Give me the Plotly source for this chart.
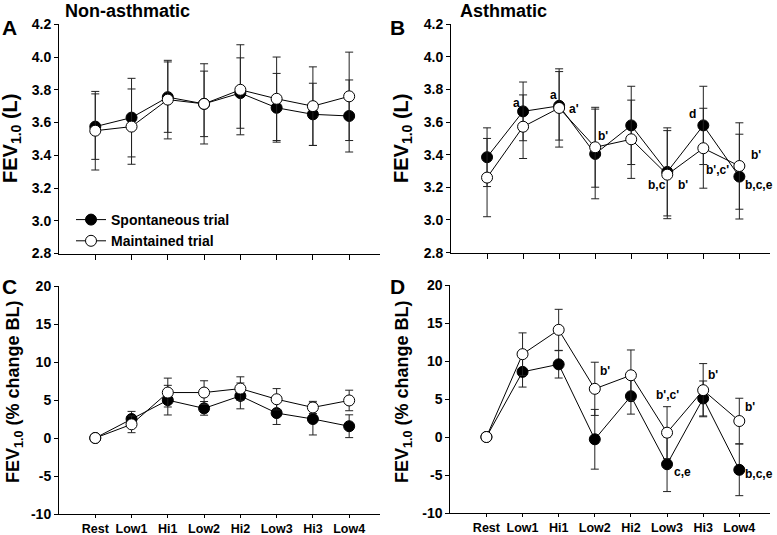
import plotly.graph_objects as go

categories = ["Rest", "Low1", "Hi1", "Low2", "Hi2", "Low3", "Hi3", "Low4"]
x_pos = [1, 2, 3, 4, 5, 6, 7, 8]

# Panel A: Non-asthmatic FEV1.0 (L)
a_spont = [3.575, 3.63, 3.755, 3.714, 3.78, 3.69, 3.65, 3.64]
a_spont_err = [0.20, 0.24, 0.215, 0.20, 0.215, 0.21, 0.19, 0.22]
a_maint = [3.55, 3.575, 3.74, 3.714, 3.80, 3.745, 3.70, 3.76]
a_maint_err = [0.24, 0.23, 0.24, 0.245, 0.275, 0.255, 0.24, 0.27]

# Panel B: Asthmatic FEV1.0 (L)
b_spont = [3.385, 3.666, 3.70, 3.405, 3.58, 3.295, 3.58, 3.266]
b_spont_err = [0.18, 0.18, 0.21, 0.275, 0.24, 0.27, 0.24, 0.26]
b_maint = [3.26, 3.572, 3.687, 3.446, 3.495, 3.278, 3.44, 3.331]
b_maint_err = [0.24, 0.195, 0.24, 0.245, 0.24, 0.27, 0.245, 0.265]

# Panel C: Non-asthmatic FEV1.0 (% change BL)
c_spont = [0, 2.5, 4.98, 3.9, 5.54, 3.28, 2.5, 1.55]
c_spont_err = [0, 1.0, 1.95, 0.9, 1.7, 1.5, 2.1, 1.5]
c_maint = [0, 1.8, 5.98, 5.98, 6.5, 5.1, 4.02, 4.94]
c_maint_err = [0, 1.1, 1.9, 1.55, 1.55, 1.4, 0.8, 1.35]

# Panel D: Asthmatic FEV1.0 (% change BL)
d_spont = [0, 8.57, 9.56, -0.3, 5.37, -3.58, 5.07, -4.32]
d_spont_err = [0, 2.0, 1.8, 3.93, 2.36, 3.6, 2.3, 3.4]
d_maint = [0, 10.9, 14.1, 6.34, 8.12, 0.57, 6.16, 2.1]
d_maint_err = [0, 2.8, 2.7, 3.5, 3.33, 3.42, 3.5, 3.0]

# y tick labels
ytick_l = [2.8, 3.0, 3.2, 3.4, 3.6, 3.8, 4.0, 4.2]
ytick_l_text = ["2.8", "3.0", "3.2", "3.4", "3.6", "3.8", "4.0", "4.2"]
ytick_pct = [-10, -5, 0, 5, 10, 15, 20]
ytick_pct_text = ["-10", "-5", "0", "5", "10", "15", "20"]

# Significance labels (text, x position, y value)
b_labels = [("a", 1.81, 3.72), ("a", 2.84, 3.765), ("a'", 3.41, 3.683),
            ("b'", 4.22, 3.512), ("b,c", 5.72, 3.216), ("b'", 6.43, 3.216),
            ("d", 6.71, 3.652), ("b',c'", 7.40, 3.307), ("b'", 8.46, 3.40),
            ("b,c,e", 8.55, 3.216)]
d_labels = [("b'", 4.27, 8.65), ("b',c'", 6.02, 5.5), ("c,e", 6.43, -4.67),
            ("b'", 7.26, 8.12), ("b'", 8.30, 3.98), ("b,c,e", 8.55, -4.89)]

FONT = "Liberation Sans, Arial, sans-serif"
W, H = 777, 535

fig = go.Figure()


def px_x(p):
    return p / W


def px_y(p):
    return 1 - p / H


panels = {
    "A": dict(xd=[59, 380], yd=[24.3, 253.5], ax="", sp=a_spont, spe=a_spont_err, mt=a_maint, mte=a_maint_err),
    "B": dict(xd=[451, 770], yd=[24.3, 252.6], ax="2", sp=b_spont, spe=b_spont_err, mt=b_maint, mte=b_maint_err),
    "C": dict(xd=[59, 380], yd=[286, 514], ax="3", sp=c_spont, spe=c_spont_err, mt=c_maint, mte=c_maint_err),
    "D": dict(xd=[450.3, 770], yd=[285, 513], ax="4", sp=d_spont, spe=d_spont_err, mt=d_maint, mte=d_maint_err),
}

for key, p in panels.items():
    xa = "x" + p["ax"]
    ya = "y" + p["ax"]
    show = key == "A"
    fig.add_trace(go.Scatter(
        x=x_pos, y=p["sp"], xaxis=xa, yaxis=ya, mode="lines+markers",
        name="Spontaneous trial", showlegend=show, legendrank=1,
        line=dict(color="black", width=1),
        marker=dict(symbol="circle", size=11, color="black", line=dict(color="black", width=1)),
        error_y=dict(type="data", array=p["spe"], visible=True, color="#222", thickness=1, width=4),
        cliponaxis=False,
    ))
    fig.add_trace(go.Scatter(
        x=x_pos, y=p["mt"], xaxis=xa, yaxis=ya, mode="lines+markers",
        name="Maintained trial", showlegend=show, legendrank=2,
        line=dict(color="black", width=1),
        marker=dict(symbol="circle", size=11, color="white", line=dict(color="black", width=1)),
        error_y=dict(type="data", array=p["mte"], visible=True, color="#222", thickness=1, width=4),
        cliponaxis=False,
    ))

    xkey = "xaxis" + p["ax"]
    ykey = "yaxis" + p["ax"]
    bottom = key in ("C", "D")
    xdict = dict(
        domain=[px_x(p["xd"][0]), px_x(p["xd"][1])], anchor=ya, automargin=False,
        range=[0, 8.85], tickmode="array", tickvals=x_pos,
        showticklabels=bottom, ticks="outside", ticklen=3 if bottom else 5, tickcolor="black",
        showline=True, linecolor="black", linewidth=1, showgrid=False, zeroline=False,
        tickfont=dict(family=FONT, size=12.5, color="black", weight="bold"),
    )
    if bottom:
        xdict["ticktext"] = categories
    fig.layout[xkey] = xdict
    if key in ("A", "B"):
        yr, tv, tt = [2.8, 4.2], ytick_l, ytick_l_text
    else:
        yr, tv, tt = [-10, 20], ytick_pct, ytick_pct_text
    fig.layout[ykey] = dict(
        domain=[px_y(p["yd"][1]), px_y(p["yd"][0])], anchor=xa, automargin=False,
        range=yr, tickmode="array", tickvals=tv, ticktext=tt,
        ticks="outside", ticklen=4, tickcolor="black",
        showline=True, linecolor="black", linewidth=1, showgrid=False, zeroline=False,
        tickfont=dict(family=FONT, size=14, color="black", weight="bold"),
    )

annotations = []
# panel titles
annotations.append(dict(text="<b>Non-asthmatic</b>", x=px_x(63), y=px_y(11), xref="paper", yref="paper",
                        xanchor="left", yanchor="middle", showarrow=False,
                        font=dict(family=FONT, size=18, color="black")))
annotations.append(dict(text="<b>Asthmatic</b>", x=px_x(458), y=px_y(11), xref="paper", yref="paper",
                        xanchor="left", yanchor="middle", showarrow=False,
                        font=dict(family=FONT, size=18, color="black")))
# panel letters
for letter, lx, ly in [("A", 9, 27), ("B", 397, 27), ("C", 9, 286), ("D", 397, 286)]:
    annotations.append(dict(text="<b>%s</b>" % letter, x=px_x(lx), y=px_y(ly), xref="paper", yref="paper",
                            xanchor="center", yanchor="middle", showarrow=False,
                            font=dict(family=FONT, size=21, color="black")))
# y-axis titles
for tx, ty, txt, sz in [(11, 139, "<b>FEV<sub>1.0</sub> (L)</b>", 20),
                        (402, 139, "<b>FEV<sub>1.0</sub> (L)</b>", 20),
                        (14, 392, "<b>FEV<sub>1.0</sub> (% change BL)</b>", 18),
                        (403, 392, "<b>FEV<sub>1.0</sub> (% change BL)</b>", 18)]:
    annotations.append(dict(text=txt, x=px_x(tx), y=px_y(ty), xref="paper", yref="paper",
                            xanchor="center", yanchor="middle", textangle=-90, showarrow=False,
                            font=dict(family=FONT, size=sz, color="black")))
# significance labels
for t, lx, ly in b_labels:
    annotations.append(dict(text="<b>%s</b>" % t, x=lx, y=ly, xref="x2", yref="y2", showarrow=False,
                            xanchor="center", yanchor="middle",
                            font=dict(family=FONT, size=12, color="black")))
for t, lx, ly in d_labels:
    annotations.append(dict(text="<b>%s</b>" % t, x=lx, y=ly, xref="x4", yref="y4", showarrow=False,
                            xanchor="center", yanchor="middle",
                            font=dict(family=FONT, size=12, color="black")))

fig.update_layout(
    template="none",
    width=W, height=H, margin=dict(l=0, r=0, t=0, b=0, autoexpand=False),
    paper_bgcolor="white", plot_bgcolor="white",
    annotations=annotations,
    legend=dict(x=px_x(71), y=px_y(204), xanchor="left", yanchor="top",
                bgcolor="rgba(0,0,0,0)", tracegroupgap=0, itemwidth=30,
                font=dict(family=FONT, size=14, color="black", weight="bold")),
    font=dict(family=FONT),
)

fig.write_html("out.html", config={"displayModeBar": False},
               post_script="document.body.style.margin='0';document.body.style.overflow='hidden';")
